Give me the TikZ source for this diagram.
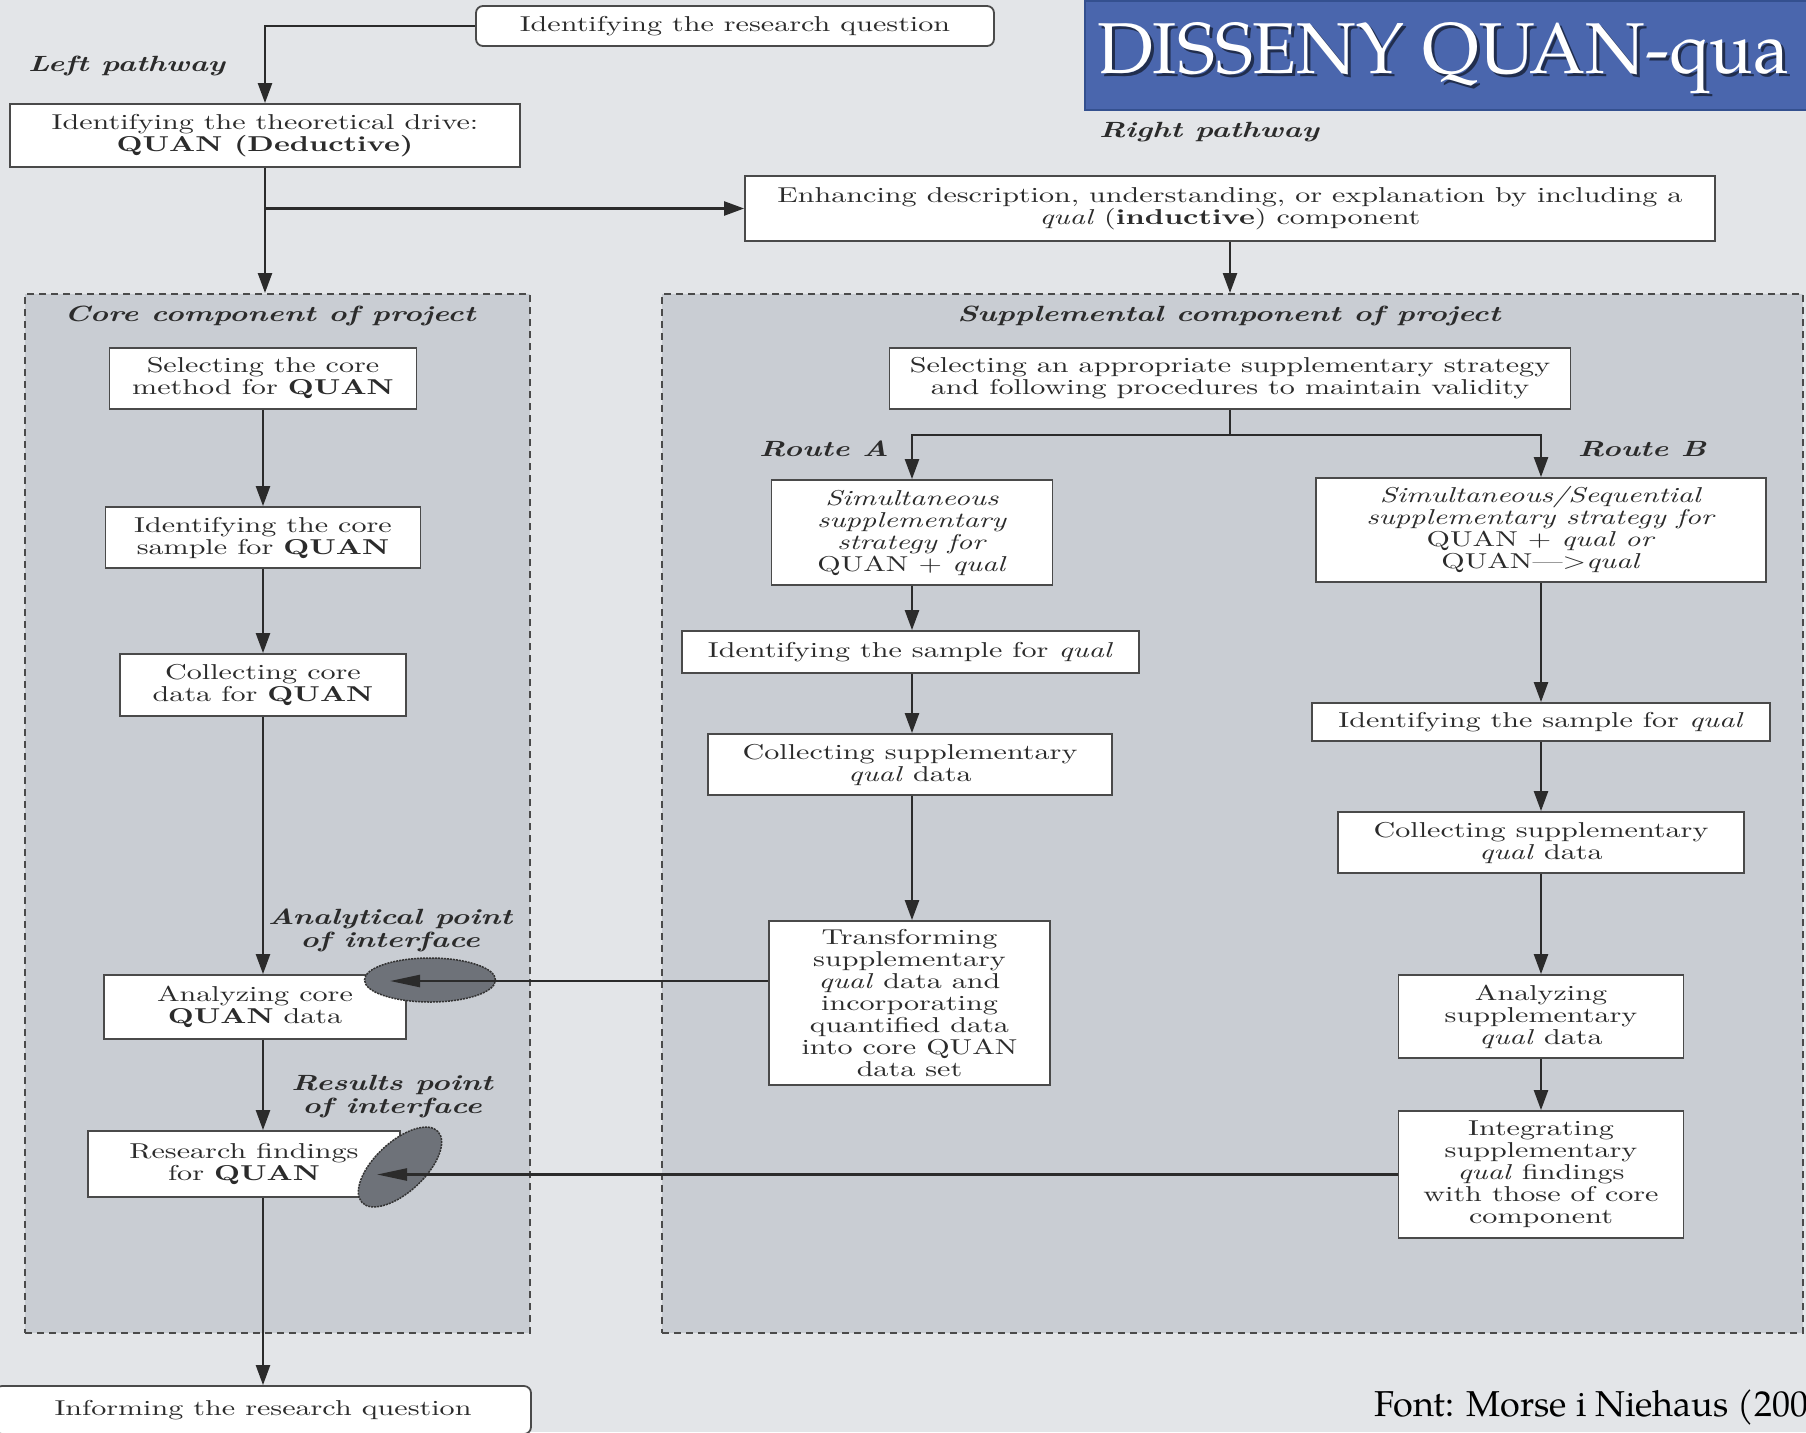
\documentclass[tikz,border=0pt]{standalone}
\usepackage{fontspec}
\setmainfont{lmroman10-regular.otf}[BoldFont=lmroman10-bold.otf,ItalicFont=lmroman10-italic.otf,BoldItalicFont=lmroman10-bolditalic.otf,FakeStretch=1.4]
\newfontfamily\pala{texgyrepagella-regular.otf}
\usetikzlibrary{arrows.meta,shapes.geometric,calc}
\definecolor{pagebg}{HTML}{E3E5E8}
\definecolor{panelbg}{HTML}{C9CDD3}
\definecolor{ink}{HTML}{2B2B2B}
\definecolor{edge}{HTML}{4A4A4A}
\definecolor{titleblue}{HTML}{4A66AD}
\definecolor{titleedge}{HTML}{34508F}
\definecolor{ovalfill}{HTML}{6E7279}
\begin{document}
\begin{tikzpicture}[x=1pt,y=-1pt,
  every node/.style={text=ink, font=\fontsize{21.5}{22}\selectfont},
  box/.style={draw=edge, line width=1.8pt, fill=white, align=center, inner sep=0pt},
  panel/.style={draw=edge, line width=2pt, dash pattern=on 7pt off 5pt, fill=panelbg, inner sep=0pt},
  lab/.style={font=\fontsize{22}{23}\selectfont\bfseries\itshape, align=center, inner sep=0pt},
  conn/.style={draw=ink, line width=2.4pt},
  arr/.style={conn, -{Triangle[length=20pt,width=14pt]}},
  oval/.style={ellipse, draw=black!80, dash pattern=on 2pt off 1pt, line width=1.5pt, fill=ovalfill, inner sep=0pt},
  oarr/.style={conn, -{Triangle[length=30pt,width=12pt]}}
]
\fill[pagebg] (0,0) rectangle (1806,1432);
\useasboundingbox (0,0) rectangle (1806,1432);

% panels
\node[panel, minimum width=505, minimum height=1039] (core) at (277.5,813.5) {};
\node[panel, minimum width=1141, minimum height=1039] (supp) at (1232.5,813.5) {};

% title
\node[draw=titleedge, fill=titleblue, line width=2pt, minimum width=740, minimum height=109, anchor=north west, inner sep=0pt] (tbox) at (1084,0) {};
\node[anchor=base west, text=black, opacity=0.55, font=\pala\fontsize{72}{78}\selectfont, inner sep=0pt] (tshadow) at (1100,76) {DISSENY QUAN-qua};
\node[anchor=base west, text=white, font=\pala\fontsize{72}{78}\selectfont, inner sep=0pt] (title) at (1097,73) {DISSENY QUAN-qua};

% labels
\node[lab, anchor=west] (lpath) at (28,66) {Left pathway};
\node[lab] (rpath) at (1209,132) {Right pathway};
\node[lab] (corelab) at (270,316) {Core component of project};
\node[lab] (supplab) at (1229,316) {Supplemental component of project};
\node[lab] (routeAl) at (824,449) {Route A};
\node[lab] (routeBl) at (1642,449) {Route B};
\node[lab] (apoint) at (390,930) {Analytical point\\of interface};
\node[lab] (rpoint) at (392,1097) {Results point\\of interface};

% boxes
\node[box, rounded corners=7pt, minimum width=518, minimum height=40] (rq) at (735,26) {Identifying the research question};
\node[box, minimum width=510, minimum height=63] (drive) at (265,135.5) {Identifying the theoretical drive:\\\textbf{QUAN (Deductive)}};
\node[box, minimum width=970, minimum height=65] (enh) at (1230,208.5) {Enhancing description, understanding, or explanation by including a\\\textit{qual} (\textbf{inductive}) component};

\node[box, minimum width=307, minimum height=61] (selcore) at (263,378.5) {Selecting the core\\method for \textbf{QUAN}};
\node[box, minimum width=315, minimum height=61] (idcore) at (263,537.5) {Identifying the core\\sample for \textbf{QUAN}};
\node[box, minimum width=286, minimum height=62] (colcore) at (263,685) {Collecting core\\data for \textbf{QUAN}};
\node[box, minimum width=302, minimum height=64] (anacore) at (255,1007) {Analyzing core\\\textbf{QUAN} data};
\node[box, minimum width=312, minimum height=66] (resf) at (244,1164) {Research findings\\for \textbf{QUAN}};
\node[box, rounded corners=7pt, minimum width=536, minimum height=48] (inform) at (263,1410) {Informing the research question};

\node[box, minimum width=681, minimum height=61] (selsup) at (1230,378.5) {Selecting an appropriate supplementary strategy\\and following procedures to maintain validity};
\node[box, minimum width=281, minimum height=105] (routeA) at (912,532.5) {\textit{Simultaneous}\\\textit{supplementary}\\\textit{strategy for}\\QUAN + \textit{qual}};
\node[box, minimum width=450, minimum height=104] (routeB) at (1541,530) {\textit{Simultaneous/Sequential}\\\textit{supplementary strategy for}\\QUAN + \textit{qual or}\\QUAN---{>}\textit{qual}};
\node[box, minimum width=457, minimum height=42] (sampA) at (910.5,652) {Identifying the sample for \textit{qual}};
\node[box, minimum width=404, minimum height=61] (colA) at (910,764.5) {Collecting supplementary\\\textit{qual} data};
\node[box, minimum width=281, minimum height=164] (trans) at (909.5,1003) {Transforming\\supplementary\\\textit{qual} data and\\incorporating\\quantified data\\into core QUAN\\data set};
\node[box, minimum width=458, minimum height=38] (sampB) at (1541,722) {Identifying the sample for \textit{qual}};
\node[box, minimum width=406, minimum height=61] (colB) at (1541,842.5) {Collecting supplementary\\\textit{qual} data};
\node[box, minimum width=285, minimum height=83] (anaB) at (1541,1016.5) {Analyzing\\supplementary\\\textit{qual} data};
\node[box, minimum width=285, minimum height=127] (integ) at (1541,1174.5) {Integrating\\supplementary\\\textit{qual} findings\\with those of core\\component};

% interface ovals
\node[oval, minimum width=131, minimum height=44] (ell1) at (430,980) {};
\node[oval, minimum width=104, minimum height=50, rotate=43] (ell2) at (400,1167) {};
\coordinate (t1) at (390,981);
\coordinate (t2) at (377,1174.5);

% connectors: left pathway
\draw[arr] (rq.west) -| (drive.north);
\draw[arr] (drive.south) -- (drive.south |- core.north);
\draw[arr] (drive.south |- enh.west) -- (enh.west);
\draw[arr] (enh.south) -- (enh.south |- supp.north);
\draw[arr] (selcore.south) -- (selcore.south |- idcore.north);
\draw[arr] (idcore.south) -- (idcore.south |- colcore.north);
\draw[arr] (colcore.south) -- (colcore.south |- anacore.north);
\draw[arr] (colcore.south |- anacore.south) -- (colcore.south |- resf.north);
\draw[arr] (colcore.south |- resf.south) -- (colcore.south |- inform.north);

% connectors: supplemental
\draw[conn] (selsup.south) -- ++(0,25) coordinate (split);
\draw[arr] (split) -| (routeA.north);
\draw[arr] (split) -| (routeB.north);
\draw[arr] (routeA.south) -- (routeA.south |- sampA.north);
\draw[arr] (routeA.south |- sampA.south) -- (routeA.south |- colA.north);
\draw[arr] (routeA.south |- colA.south) -- (routeA.south |- trans.north);
\draw[arr] (routeB.south) -- (routeB.south |- sampB.north);
\draw[arr] (sampB.south) -- (sampB.south |- colB.north);
\draw[arr] (colB.south) -- (colB.south |- anaB.north);
\draw[arr] (anaB.south) -- (anaB.south |- integ.north);

% interface connectors
\draw[oarr] (trans.west |- t1) -- (t1);
\draw[oarr] (integ.west |- t2) -- (t2);

% source
\node[anchor=base west, text=black, font=\pala\fontsize{36}{40}\selectfont, inner sep=0pt] (src) at (1374,1416) {Font: Morse i Niehaus (200};
\end{tikzpicture}
\end{document}
